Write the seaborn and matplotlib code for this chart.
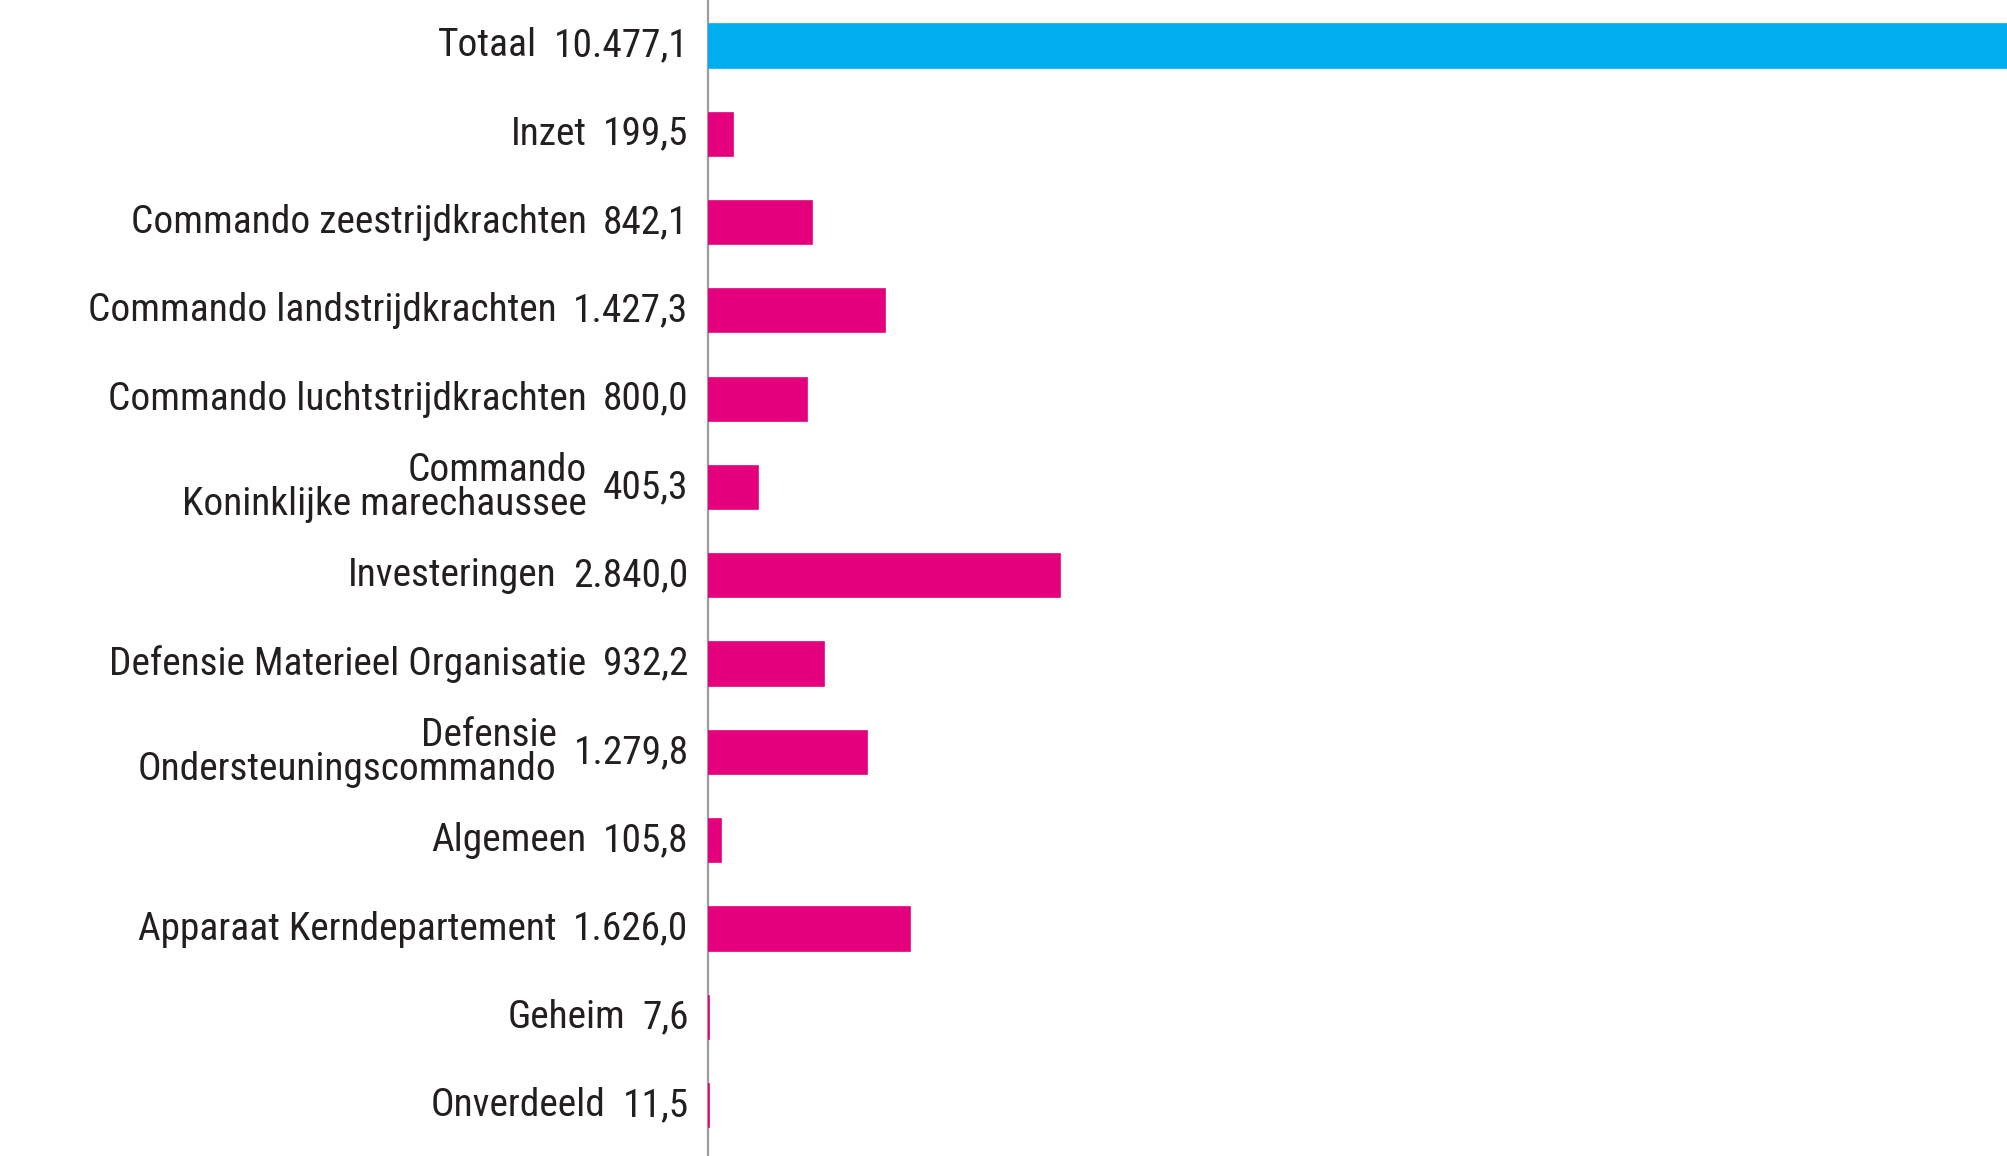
import matplotlib
matplotlib.use("Agg")
import matplotlib.pyplot as plt
import seaborn as sns
import pandas as pd

# data
categories = [
    "Totaal",
    "Inzet",
    "Commando zeestrijdkrachten",
    "Commando landstrijdkrachten",
    "Commando luchtstrijdkrachten",
    "Commando\nKoninklijke marechaussee",
    "Investeringen",
    "Defensie Materieel Organisatie",
    "Defensie\nOndersteuningscommando",
    "Algemeen",
    "Apparaat Kerndepartement",
    "Geheim",
    "Onverdeeld",
]
values = [10477.1, 199.5, 842.1, 1427.3, 800.0, 405.3, 2840.0, 932.2,
          1279.8, 105.8, 1626.0, 7.6, 11.5]
bar_colors = ["#00aeef"] + ["#e4007c"] * 12

sns.set_style("white")
plt.rcParams["font.family"] = ["Roboto Condensed", "Liberation Sans Narrow",
                               "DejaVu Sans"]


def nl_fmt(v):
    s = f"{v:,.1f}"
    return s.replace(",", "X").replace(".", ",").replace("X", ".")


df = pd.DataFrame({"cat": categories, "val": values})

fig = plt.figure(figsize=(20.08, 11.56), dpi=100)
ax = fig.add_axes([708 / 2008, 0, 1 - 708 / 2008, 1])

sns.barplot(data=df, y="cat", x="val", hue="cat", palette=bar_colors,
            legend=False, width=0.49, saturation=1, ax=ax, orient="h")
for bar, c in zip(ax.patches, bar_colors):
    bar.set_edgecolor(c)
    bar.set_linewidth(1.2)
    bar.set_zorder(3)

ax.set_xlim(0, 10480)
ax.set_ylim(12.57, -0.52)
ax.set_xticks([])
ax.set_yticks([])
ax.set_xlabel("")
ax.set_ylabel("")
sns.despine(ax=ax, bottom=True)
ax.spines["left"].set_color("#9d9d9c")
ax.spines["left"].set_linewidth(1.6)

# pick a font size so the longest single-line label is about as wide as in the reference
renderer = fig.canvas.get_renderer()
probe = fig.text(0, 0, "Commando landstrijdkrachten", fontsize=20)
w = probe.get_window_extent(renderer).width
probe.remove()
fs = 20 * 468 / w

txt_color = "#231f20"
for i, (name, v) in enumerate(zip(categories, values)):
    vt = ax.annotate(nl_fmt(v), xy=(0, i), xycoords=("axes fraction", "data"),
                     xytext=(-14, 0), textcoords="offset points",
                     ha="right", va="center", fontsize=fs, color=txt_color)
    ax.annotate(name, xy=(0, 0.5), xycoords=vt, xytext=(-12, 0),
                textcoords="offset points", ha="right", va="center",
                multialignment="right", linespacing=0.88,
                fontsize=fs, color=txt_color)

fig.savefig("out.png", dpi=100)
